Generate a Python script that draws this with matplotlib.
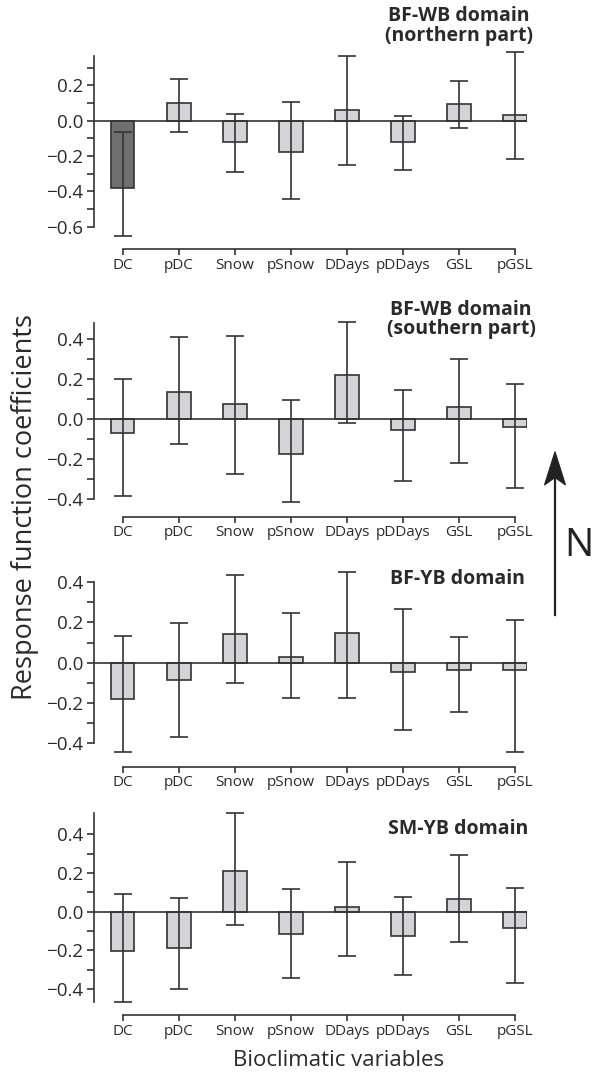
import matplotlib
matplotlib.use("Agg")
import matplotlib.pyplot as plt
import numpy as np
from matplotlib.patches import Polygon
from matplotlib.lines import Line2D

plt.rcParams['font.family'] = ['Open Sans', 'DejaVu Sans']

# ---------------- data ----------------
variables = ["DC", "pDC", "Snow", "pSnow", "DDays", "pDDays", "GSL", "pGSL"]

titles = ["BF-WB domain\n(northern part)", "BF-WB domain\n(southern part)",
          "BF-YB domain", "SM-YB domain"]

# coefficients
coef_nwb = [-0.383, 0.098, -0.119, -0.175, 0.062, -0.119, 0.096, 0.032]
coef_swb = [-0.070, 0.132, 0.075, -0.175, 0.217, -0.055, 0.060, -0.042]
coef_byb = [-0.182, -0.086, 0.141, 0.028, 0.146, -0.045, -0.036, -0.036]
coef_syb = [-0.205, -0.188, 0.212, -0.114, 0.023, -0.127, 0.066, -0.084]

# confidence interval upper / lower limits
upper_nwb = [-0.062, 0.238, 0.036, 0.108, 0.366, 0.027, 0.223, 0.389]
lower_nwb = [-0.652, -0.066, -0.289, -0.445, -0.251, -0.277, -0.041, -0.218]
upper_swb = [0.199, 0.410, 0.413, 0.093, 0.482, 0.142, 0.298, 0.173]
lower_swb = [-0.387, -0.128, -0.277, -0.417, -0.023, -0.312, -0.223, -0.345]
upper_byb = [0.131, 0.197, 0.434, 0.245, 0.449, 0.268, 0.126, 0.214]
lower_byb = [-0.445, -0.369, -0.102, -0.174, -0.174, -0.333, -0.245, -0.443]
upper_syb = [0.092, 0.069, 0.509, 0.119, 0.257, 0.078, 0.295, 0.121]
lower_syb = [-0.467, -0.402, -0.069, -0.345, -0.231, -0.329, -0.158, -0.369]

# significant coefficient flags (dark bar)
signif_nwb = [True, False, False, False, False, False, False, False]
signif_swb = [False] * 8
signif_byb = [False] * 8
signif_syb = [False] * 8

# y-axis ranges (spine extent) and ticks
spine_lo = [-0.6, -0.4, -0.4, -0.467]
spine_hi = [0.366, 0.48, 0.40, 0.51]
major_ticks = [[-0.6, -0.4, -0.2, 0.0, 0.2],
               [-0.4, -0.2, 0.0, 0.2, 0.4],
               [-0.4, -0.2, 0.0, 0.2, 0.4],
               [-0.4, -0.2, 0.0, 0.2, 0.4]]
minor_ticks = [[-0.5, -0.3, -0.1, 0.1, 0.3],
               [-0.3, -0.1, 0.1, 0.3],
               [-0.3, -0.1, 0.1, 0.3],
               [-0.3, -0.1, 0.1, 0.3]]

panels = [
    (coef_nwb, lower_nwb, upper_nwb, signif_nwb),
    (coef_swb, lower_swb, upper_swb, signif_swb),
    (coef_byb, lower_byb, upper_byb, signif_byb),
    (coef_syb, lower_syb, upper_syb, signif_syb),
]

# ---------------- layout (pixels) ----------------
W, H = 598, 1074
LINE = '#333333'
TXT = '#2a2a2a'
LIGHT = '#d4d4d6'
DARK = '#6f6f6f'

# per panel: pixel row of zero, pixels per unit, pixel row of x-axis, top value
layout = [
    (120.7, 176.7, 249.3, 0.40),
    (418.7, 200.0, 516.7, 0.50),
    (662.7, 201.2, 766.7, 0.50),
    (911.7, 193.4, 1015.3, 0.55),
]
title_pos = [(459, 26), (461, 319.5), (457.5, 579), (458.3, 829)]

x_left_px, x_right_px = 94.0, 526.7
cat_px0, cat_dx = 122.7, 56.04
xlim = ((x_left_px - cat_px0) / cat_dx, (x_right_px - cat_px0) / cat_dx)

fig = plt.figure(figsize=(W / 100, H / 100), dpi=100)

x = np.arange(len(variables))
for i, ((coef, lo, hi, sig), (y0, sc, xs, top)) in enumerate(zip(panels, layout)):
    coef = np.array(coef)
    lo = np.array(lo)
    hi = np.array(hi)
    top_px = y0 - top * sc
    ax = fig.add_axes([x_left_px / W, 1 - xs / H,
                       (x_right_px - x_left_px) / W, (xs - top_px) / H])
    ax.set_xlim(*xlim)
    ax.set_ylim(-(xs - y0) / sc, top)
    colors = [DARK if s else LIGHT for s in sig]
    ax.bar(x, coef, width=0.42, color=colors, edgecolor=LINE, linewidth=1.2, zorder=2)
    ax.errorbar(x, coef, yerr=[coef - lo, hi - coef], fmt='none', ecolor=LINE,
                elinewidth=1.2, capsize=6.5, capthick=1.2, zorder=3)
    ax.axhline(0, color=LINE, lw=1.2, zorder=4)

    for s in ['top', 'right']:
        ax.spines[s].set_visible(False)
    ax.spines['left'].set_bounds(spine_lo[i], spine_hi[i])
    ax.spines['bottom'].set_bounds(0, len(variables) - 1)
    for s in ['left', 'bottom']:
        ax.spines[s].set_linewidth(1.2)
        ax.spines[s].set_color(LINE)

    ax.set_yticks(major_ticks[i])
    ax.set_yticks(minor_ticks[i], minor=True)
    ax.set_yticklabels([f"{v:.1f}".replace('-', '\u2212') for v in major_ticks[i]])
    ax.set_xticks(x)
    ax.set_xticklabels(variables)
    ax.tick_params(axis='y', which='both', direction='out', length=5, width=1.2,
                   color=LINE, labelcolor=TXT, labelsize=13.5, pad=3)
    ax.tick_params(axis='x', direction='out', length=4, width=1.2,
                   color=LINE, labelcolor=TXT, labelsize=11, pad=2)
    ax.patch.set_alpha(0)

    tx, ty = title_pos[i]
    fig.text(tx / W, 1 - ty / H, titles[i], ha='center', va='center',
             fontsize=14, fontweight='bold', color=TXT, linespacing=0.95)

fig.text(25 / W, 1 - 507 / H, "Response function coefficients", rotation=90,
         ha='center', va='center', fontsize=19.5, color=TXT)
fig.text(339 / W, 1 - 1061 / H, "Bioclimatic variables", ha='center', va='center',
         fontsize=16, color=TXT)

# north arrow
def fp(px, py):
    return (px / W, 1 - py / H)

fig.add_artist(Line2D([fp(555, 615)[0], fp(555, 476)[0]],
                      [fp(555, 615)[1], fp(555, 476)[1]],
                      transform=fig.transFigure, color='#222222', lw=1.6))
head = Polygon([fp(555, 451.7), fp(544.5, 485), fp(555, 477.5), fp(565.5, 485)],
               closed=True, transform=fig.transFigure, facecolor='#222222',
               edgecolor='#222222', lw=0.8)
fig.add_artist(head)
fig.text(579 / W, 1 - 546 / H, "N", ha='center', va='center', fontsize=28,
         color='#222222')

fig.savefig("out.png", dpi=100)
